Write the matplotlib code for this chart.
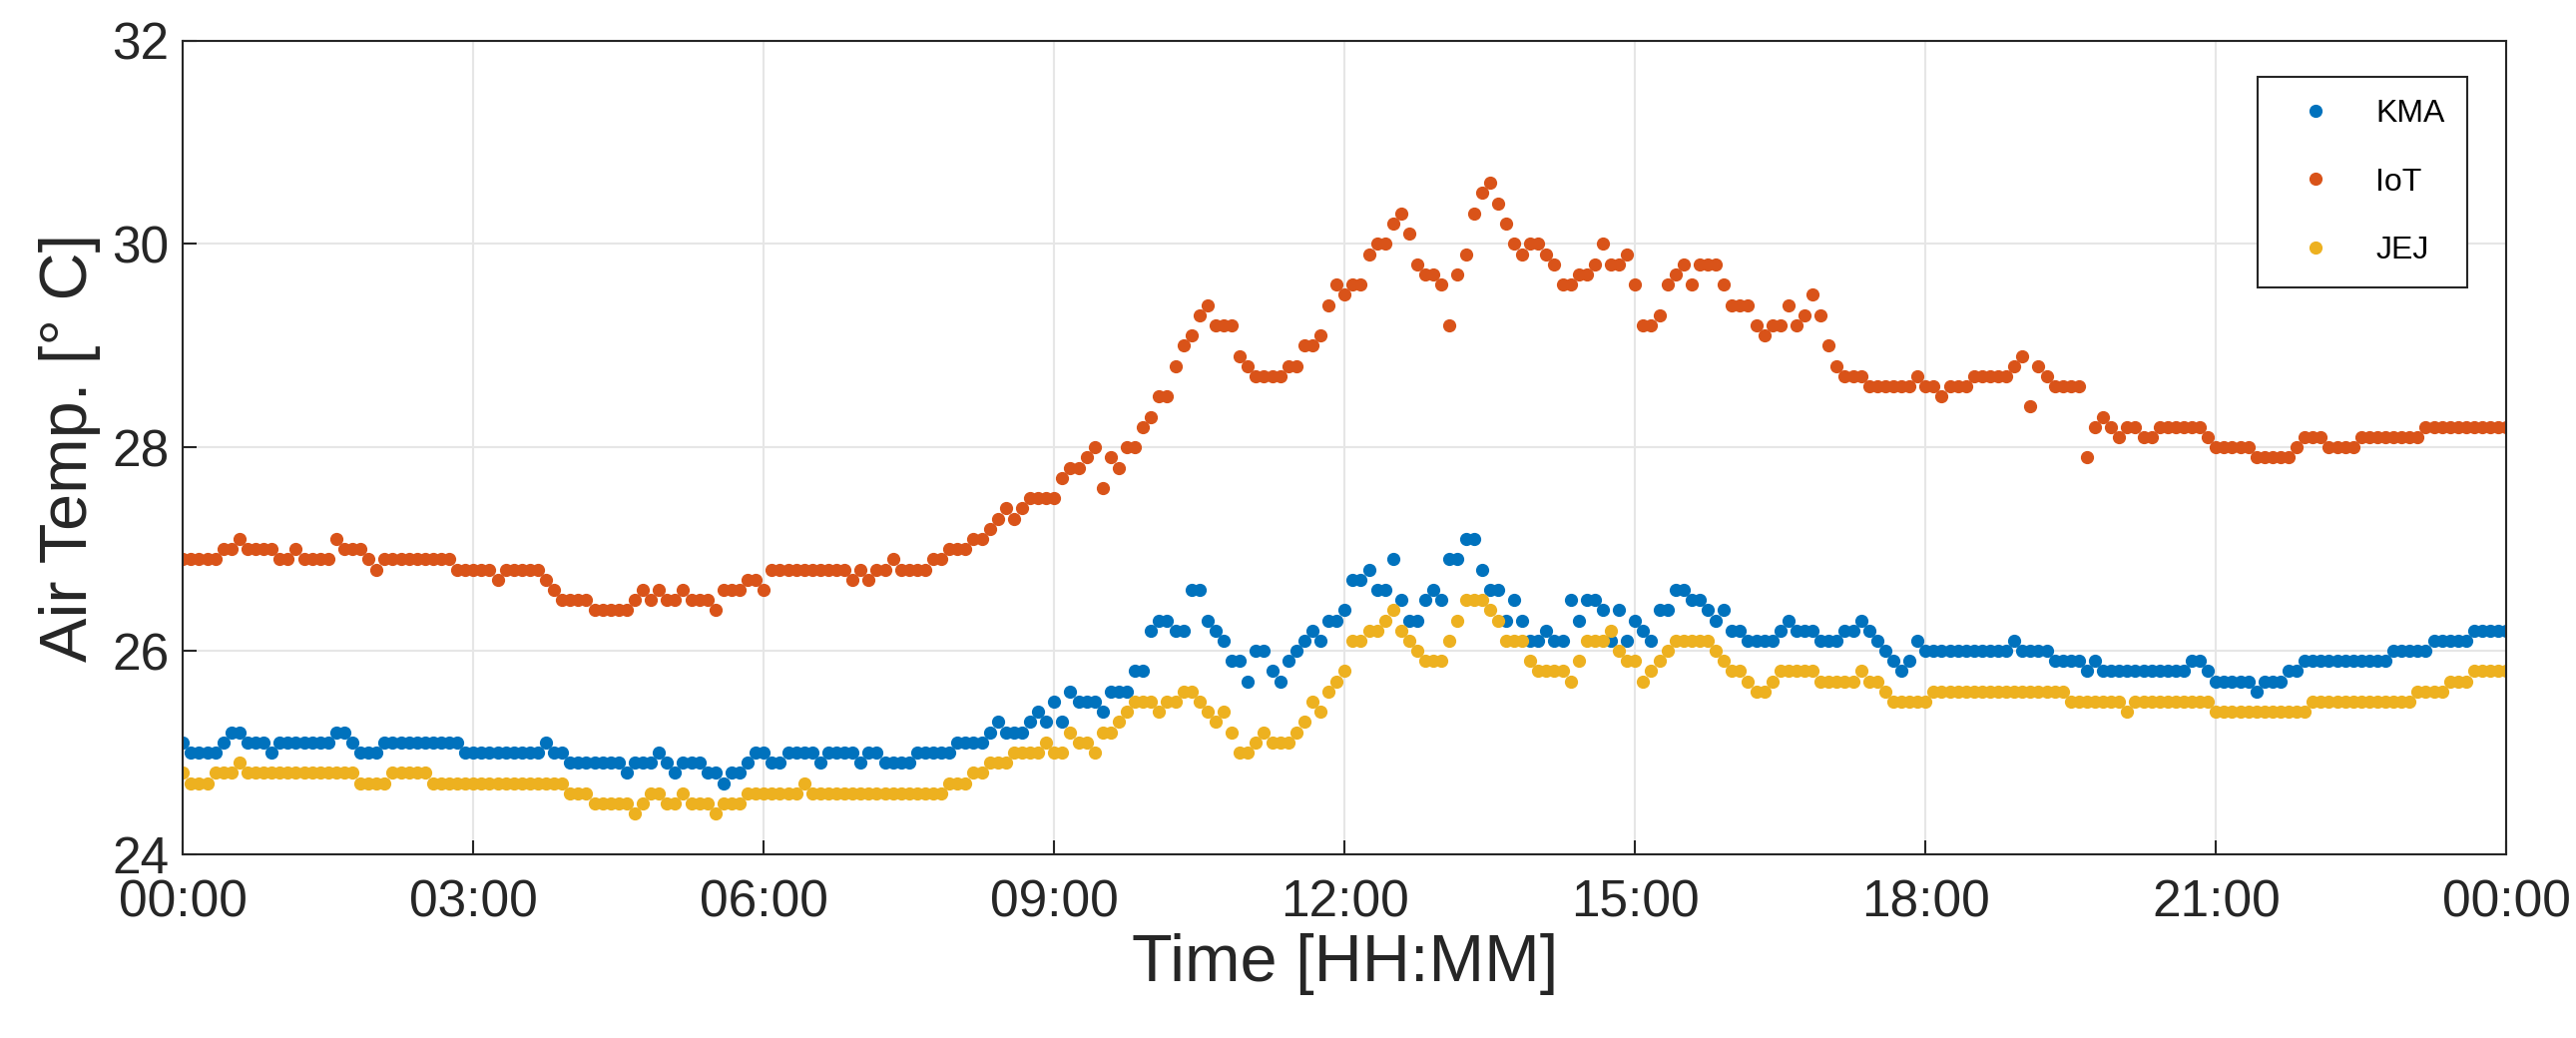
import numpy as np
import matplotlib
import matplotlib.pyplot as plt

matplotlib.use('Agg')
plt.rcParams['font.family'] = ['Liberation Sans', 'DejaVu Sans']

# readings every 5 min, given as (start time, value) steps that hold until the next step
kma_steps = [
    ("00:00", 25.1), ("00:05", 25.0), ("00:25", 25.1), ("00:30", 25.2), ("00:40", 25.1), ("00:55", 25.0),
    ("01:00", 25.1), ("01:35", 25.2), ("01:45", 25.1), ("01:50", 25.0), ("02:05", 25.1), ("02:55", 25.0),
    ("03:45", 25.1), ("03:50", 25.0), ("04:00", 24.9), ("04:35", 24.8), ("04:40", 24.9), ("04:55", 25.0),
    ("05:00", 24.9), ("05:05", 24.8), ("05:10", 24.9), ("05:25", 24.8), ("05:35", 24.7), ("05:40", 24.8),
    ("05:50", 24.9), ("05:55", 25.0), ("06:05", 24.9), ("06:15", 25.0), ("06:35", 24.9), ("06:40", 25.0),
    ("07:00", 24.9), ("07:05", 25.0), ("07:15", 24.9), ("07:35", 25.0), ("08:00", 25.1), ("08:20", 25.2),
    ("08:25", 25.3), ("08:30", 25.2), ("08:45", 25.3), ("08:50", 25.4), ("08:55", 25.3), ("09:00", 25.5),
    ("09:05", 25.3), ("09:10", 25.6), ("09:15", 25.5), ("09:30", 25.4), ("09:35", 25.6), ("09:50", 25.8),
    ("10:00", 26.2), ("10:05", 26.3), ("10:15", 26.2), ("10:25", 26.6), ("10:35", 26.3), ("10:40", 26.2),
    ("10:45", 26.1), ("10:50", 25.9), ("11:00", 25.7), ("11:05", 26.0), ("11:15", 25.8), ("11:20", 25.7),
    ("11:25", 25.9), ("11:30", 26.0), ("11:35", 26.1), ("11:40", 26.2), ("11:45", 26.1), ("11:50", 26.3),
    ("12:00", 26.4), ("12:05", 26.7), ("12:15", 26.8), ("12:20", 26.6), ("12:30", 26.9), ("12:35", 26.5),
    ("12:40", 26.3), ("12:50", 26.5), ("12:55", 26.6), ("13:00", 26.5), ("13:05", 26.9), ("13:15", 27.1),
    ("13:25", 26.8), ("13:30", 26.6), ("13:40", 26.3), ("13:45", 26.5), ("13:50", 26.3), ("13:55", 26.1),
    ("14:05", 26.2), ("14:10", 26.1), ("14:20", 26.5), ("14:25", 26.3), ("14:30", 26.5), ("14:40", 26.4),
    ("14:45", 26.1), ("14:50", 26.4), ("14:55", 26.1), ("15:00", 26.3), ("15:05", 26.2), ("15:10", 26.1),
    ("15:15", 26.4), ("15:25", 26.6), ("15:35", 26.5), ("15:45", 26.4), ("15:50", 26.3), ("15:55", 26.4),
    ("16:00", 26.2), ("16:10", 26.1), ("16:30", 26.2), ("16:35", 26.3), ("16:40", 26.2), ("16:55", 26.1),
    ("17:10", 26.2), ("17:20", 26.3), ("17:25", 26.2), ("17:30", 26.1), ("17:35", 26.0), ("17:40", 25.9),
    ("17:45", 25.8), ("17:50", 25.9), ("17:55", 26.1), ("18:00", 26.0), ("18:55", 26.1), ("19:00", 26.0),
    ("19:20", 25.9), ("19:40", 25.8), ("19:45", 25.9), ("19:50", 25.8), ("20:45", 25.9), ("20:55", 25.8),
    ("21:00", 25.7), ("21:25", 25.6), ("21:30", 25.7), ("21:45", 25.8), ("21:55", 25.9), ("22:50", 26.0),
    ("23:15", 26.1), ("23:40", 26.2),
]

iot_steps = [
    ("00:00", 26.9), ("00:25", 27.0), ("00:35", 27.1), ("00:40", 27.0), ("01:00", 26.9), ("01:10", 27.0),
    ("01:15", 26.9), ("01:35", 27.1), ("01:40", 27.0), ("01:55", 26.9), ("02:00", 26.8), ("02:05", 26.9),
    ("02:50", 26.8), ("03:15", 26.7), ("03:20", 26.8), ("03:45", 26.7), ("03:50", 26.6), ("03:55", 26.5),
    ("04:15", 26.4), ("04:40", 26.5), ("04:45", 26.6), ("04:50", 26.5), ("04:55", 26.6), ("05:00", 26.5),
    ("05:10", 26.6), ("05:15", 26.5), ("05:30", 26.4), ("05:35", 26.6), ("05:50", 26.7), ("06:00", 26.6),
    ("06:05", 26.8), ("06:55", 26.7), ("07:00", 26.8), ("07:05", 26.7), ("07:10", 26.8), ("07:20", 26.9),
    ("07:25", 26.8), ("07:45", 26.9), ("07:55", 27.0), ("08:10", 27.1), ("08:20", 27.2), ("08:25", 27.3),
    ("08:30", 27.4), ("08:35", 27.3), ("08:40", 27.4), ("08:45", 27.5), ("09:05", 27.7), ("09:10", 27.8),
    ("09:20", 27.9), ("09:25", 28.0), ("09:30", 27.6), ("09:35", 27.9), ("09:40", 27.8), ("09:45", 28.0),
    ("09:55", 28.2), ("10:00", 28.3), ("10:05", 28.5), ("10:15", 28.8), ("10:20", 29.0), ("10:25", 29.1),
    ("10:30", 29.3), ("10:35", 29.4), ("10:40", 29.2), ("10:55", 28.9), ("11:00", 28.8), ("11:05", 28.7),
    ("11:25", 28.8), ("11:35", 29.0), ("11:45", 29.1), ("11:50", 29.4), ("11:55", 29.6), ("12:00", 29.5),
    ("12:05", 29.6), ("12:15", 29.9), ("12:20", 30.0), ("12:30", 30.2), ("12:35", 30.3), ("12:40", 30.1),
    ("12:45", 29.8), ("12:50", 29.7), ("13:00", 29.6), ("13:05", 29.2), ("13:10", 29.7), ("13:15", 29.9),
    ("13:20", 30.3), ("13:25", 30.5), ("13:30", 30.6), ("13:35", 30.4), ("13:40", 30.2), ("13:45", 30.0),
    ("13:50", 29.9), ("13:55", 30.0), ("14:05", 29.9), ("14:10", 29.8), ("14:15", 29.6), ("14:25", 29.7),
    ("14:35", 29.8), ("14:40", 30.0), ("14:45", 29.8), ("14:55", 29.9), ("15:00", 29.6), ("15:05", 29.2),
    ("15:15", 29.3), ("15:20", 29.6), ("15:25", 29.7), ("15:30", 29.8), ("15:35", 29.6), ("15:40", 29.8),
    ("15:50", 29.8), ("15:55", 29.6), ("16:00", 29.4), ("16:15", 29.2), ("16:20", 29.1), ("16:25", 29.2),
    ("16:35", 29.4), ("16:40", 29.2), ("16:45", 29.3), ("16:50", 29.5), ("16:55", 29.3), ("17:00", 29.0),
    ("17:05", 28.8), ("17:10", 28.7), ("17:25", 28.6), ("17:55", 28.7), ("18:00", 28.6), ("18:10", 28.5),
    ("18:15", 28.6), ("18:30", 28.7), ("18:55", 28.8), ("19:00", 28.9), ("19:05", 28.4), ("19:10", 28.8),
    ("19:15", 28.7), ("19:20", 28.6), ("19:40", 27.9), ("19:45", 28.2), ("19:50", 28.3), ("19:55", 28.2),
    ("20:00", 28.1), ("20:05", 28.2), ("20:15", 28.1), ("20:25", 28.2), ("20:55", 28.1), ("21:00", 28.0),
    ("21:25", 27.9), ("21:50", 28.0), ("21:55", 28.1), ("22:10", 28.0), ("22:30", 28.1), ("23:10", 28.2),
]

jej_steps = [
    ("00:00", 24.8), ("00:05", 24.7), ("00:20", 24.8), ("00:35", 24.9), ("00:40", 24.8), ("01:50", 24.7),
    ("02:10", 24.8), ("02:35", 24.7), ("04:00", 24.6), ("04:15", 24.5), ("04:40", 24.4), ("04:45", 24.5),
    ("04:50", 24.6), ("05:00", 24.5), ("05:10", 24.6), ("05:15", 24.5), ("05:30", 24.4), ("05:35", 24.5),
    ("05:50", 24.6), ("06:25", 24.7), ("06:30", 24.6), ("07:55", 24.7), ("08:10", 24.8), ("08:20", 24.9),
    ("08:35", 25.0), ("08:55", 25.1), ("09:00", 25.0), ("09:10", 25.2), ("09:15", 25.1), ("09:25", 25.0),
    ("09:30", 25.2), ("09:40", 25.3), ("09:45", 25.4), ("09:50", 25.5), ("10:05", 25.4), ("10:10", 25.5),
    ("10:20", 25.6), ("10:30", 25.5), ("10:35", 25.4), ("10:40", 25.3), ("10:45", 25.4), ("10:50", 25.2),
    ("10:55", 25.0), ("11:05", 25.1), ("11:10", 25.2), ("11:15", 25.1), ("11:30", 25.2), ("11:35", 25.3),
    ("11:40", 25.5), ("11:45", 25.4), ("11:50", 25.6), ("11:55", 25.7), ("12:00", 25.8), ("12:05", 26.1),
    ("12:15", 26.2), ("12:25", 26.3), ("12:30", 26.4), ("12:35", 26.2), ("12:40", 26.1), ("12:45", 26.0),
    ("12:50", 25.9), ("13:05", 26.1), ("13:10", 26.3), ("13:15", 26.5), ("13:30", 26.4), ("13:35", 26.3),
    ("13:40", 26.1), ("13:55", 25.9), ("14:00", 25.8), ("14:20", 25.7), ("14:25", 25.9), ("14:30", 26.1),
    ("14:45", 26.2), ("14:50", 26.0), ("14:55", 25.9), ("15:00", 25.9), ("15:05", 25.7), ("15:10", 25.8),
    ("15:15", 25.9), ("15:20", 26.0), ("15:25", 26.1), ("15:50", 26.0), ("15:55", 25.9), ("16:00", 25.8),
    ("16:10", 25.7), ("16:15", 25.6), ("16:25", 25.7), ("16:30", 25.8), ("16:55", 25.7), ("17:20", 25.8),
    ("17:25", 25.7), ("17:35", 25.6), ("17:40", 25.5), ("18:05", 25.6), ("19:30", 25.5), ("20:05", 25.4),
    ("20:10", 25.5), ("21:00", 25.4), ("22:00", 25.5), ("23:05", 25.6), ("23:25", 25.7), ("23:40", 25.8),
]

tick_labels = ["00:00", "03:00", "06:00", "09:00", "12:00", "15:00", "18:00", "21:00", "00:00"]

def expand(steps):
    starts = np.array([int(s[:2]) * 60 + int(s[3:]) for s, v in steps])
    vals = np.array([v for s, v in steps])
    minutes = np.arange(0, 24 * 60 + 1, 5)
    idx = np.searchsorted(starts, minutes, side="right") - 1
    return minutes / 60.0, vals[idx]

fig = plt.figure(figsize=(25.81, 10.4), dpi=100)
ax = fig.add_axes([0.071, 0.177, 0.902, 0.784])

for steps, name, color in [(kma_steps, "KMA", "#0072BD"),
                           (iot_steps, "IoT", "#D95319"),
                           (jej_steps, "JEJ", "#EDB120")]:
    t, v = expand(steps)
    ax.plot(t, v, ".", color=color, markersize=17, label=name)

ax.set_xlim(0, 24)
ax.set_ylim(24, 32)
ax.set_xticks(np.arange(0, 25, 3))
ax.set_xticklabels(tick_labels)
ax.set_yticks([24, 26, 28, 30, 32])
ax.grid(True, color="#e6e6e6", linewidth=1.5)
ax.set_axisbelow(True)
ax.tick_params(direction="in", labelsize=37, length=10, width=1.5, colors="#262626")
ax.tick_params(axis="x", pad=18)
ax.tick_params(axis="y", pad=10)
for s in ax.spines.values():
    s.set_color("#262626")
    s.set_linewidth(1.5)
ax.set_xlabel("Time [HH:MM]", fontsize=48, color="#262626", labelpad=4)
ax.set_ylabel("Air Temp. [° C]", fontsize=48, color="#262626", labelpad=8)

leg = ax.legend(loc="upper right", bbox_to_anchor=(0.99, 0.975), fontsize=23,
                fancybox=False, framealpha=1, edgecolor="#262626",
                handletextpad=0.8, handlelength=2.2, borderpad=0.7, labelspacing=1.2)
leg.get_frame().set_linewidth(1.5)

fig.savefig("out.png", dpi=100)
